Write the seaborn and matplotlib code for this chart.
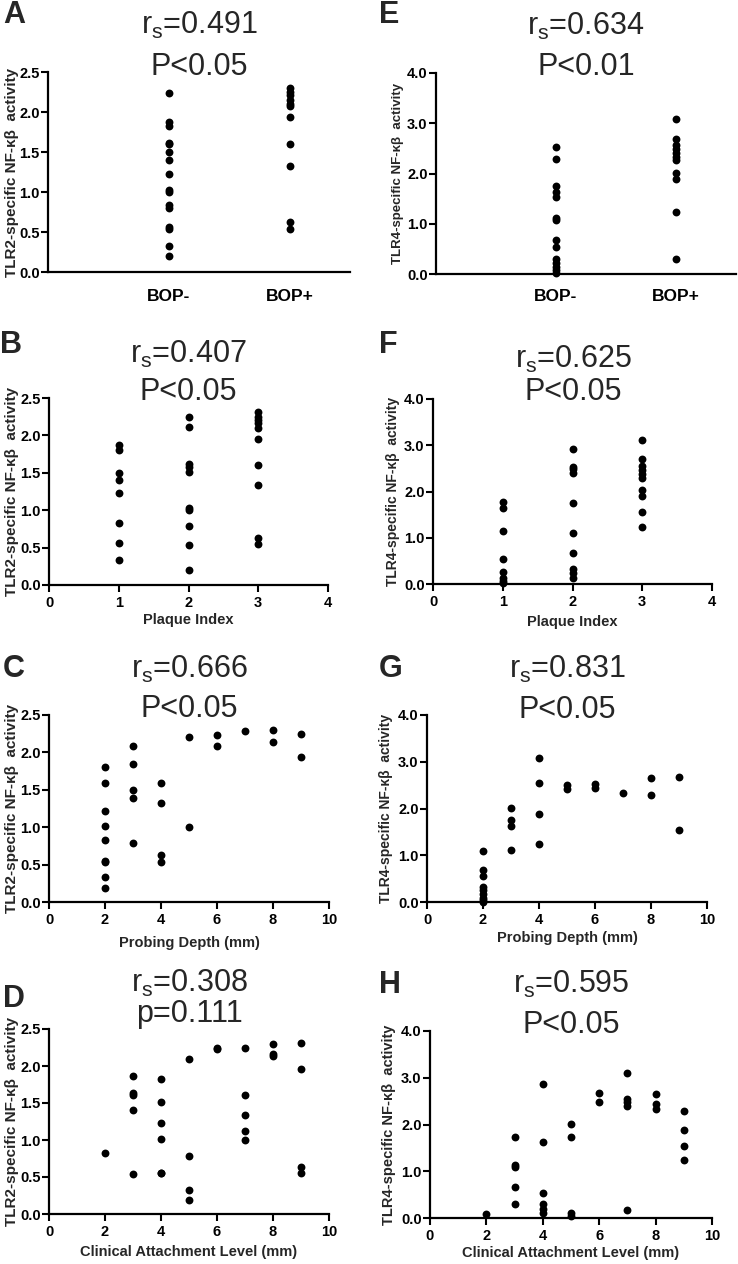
import matplotlib
matplotlib.use("Agg")
import matplotlib.pyplot as plt
import seaborn as sns
import pandas as pd

sns.set_style("ticks")
plt.rcParams["font.family"] = ["Liberation Sans", "DejaVu Sans"]
plt.rcParams["mathtext.default"] = "regular"

# ---------------- data ----------------
bop_labels = ["BOP-", "BOP+"]

# Panel A: TLR2 vs BOP
A_bop_neg = [2.24, 1.87, 1.82, 1.61, 1.60, 1.50, 1.40, 1.22, 1.02, 1.00, 0.84, 0.80, 0.56, 0.54, 0.33, 0.20]
A_bop_pos = [2.30, 2.25, 2.21, 2.15, 2.10, 2.08, 1.94, 1.60, 1.33, 0.63, 0.54]

# Panel B: TLR2 vs Plaque Index
B_plaque = [1, 1, 1, 1, 1, 1, 1, 1,
            2, 2, 2, 2, 2, 2, 2, 2, 2, 2,
            3, 3, 3, 3, 3, 3, 3, 3, 3, 3]
B_tlr2 = [1.87, 1.80, 1.50, 1.40, 1.23, 0.83, 0.56, 0.33,
          2.24, 2.11, 1.62, 1.58, 1.51, 1.03, 1.00, 0.79, 0.54, 0.20,
          2.31, 2.25, 2.20, 2.16, 2.10, 1.95, 1.60, 1.34, 0.63, 0.55]

# Panel C: TLR2 vs Probing Depth
C_depth = [2, 2, 2, 2, 2, 2, 2, 2, 2,
           3, 3, 3, 3, 3,
           4, 4, 4, 4,
           5, 5, 6, 6, 7, 8, 8, 9, 9]
C_tlr2 = [1.81, 1.59, 1.22, 1.01, 0.83, 0.55, 0.54, 0.33, 0.19,
          2.08, 1.85, 1.50, 1.39, 0.79,
          1.59, 1.33, 0.63, 0.54,
          2.21, 1.00, 2.23, 2.09, 2.28, 2.30, 2.14, 2.24, 1.94]

# Panel D: TLR2 vs Clinical Attachment Level
D_cal = [2,
         3, 3, 3, 3, 3,
         4, 4, 4, 4, 4, 4,
         5, 5, 5, 5,
         6, 6,
         7, 7, 7, 7, 7,
         8, 8, 8,
         9, 9, 9, 9]
D_tlr2 = [0.83,
          1.87, 1.63, 1.61, 1.41, 0.54,
          1.82, 1.51, 1.23, 1.02, 0.56, 0.55,
          2.10, 0.79, 0.33, 0.19,
          2.25, 2.23,
          2.25, 1.61, 1.34, 1.12, 1.00,
          2.30, 2.16, 2.13,
          2.31, 1.96, 0.63, 0.55]

# Panel E: TLR4 vs BOP
E_bop_neg = [2.52, 2.29, 1.75, 1.64, 1.54, 1.12, 1.08, 0.67, 0.53, 0.29, 0.21, 0.13, 0.07, 0.01]
E_bop_pos = [3.09, 2.68, 2.57, 2.48, 2.40, 2.33, 2.26, 2.01, 1.89, 1.24, 0.29]

# Panel F: TLR4 vs Plaque Index
F_plaque = [1, 1, 1, 1, 1, 1, 1, 1,
            2, 2, 2, 2, 2, 2, 2, 2, 2, 2,
            3, 3, 3, 3, 3, 3, 3, 3, 3, 3]
F_tlr4 = [1.77, 1.64, 1.14, 0.54, 0.27, 0.13, 0.07, 0.02,
          2.92, 2.54, 2.48, 2.41, 1.75, 1.10, 0.67, 0.32, 0.24, 0.13,
          3.11, 2.70, 2.56, 2.47, 2.37, 2.29, 2.04, 1.91, 1.55, 1.24]

# Panel G: TLR4 vs Probing Depth
G_depth = [2, 2, 2, 2, 2, 2, 2, 2, 2,
           3, 3, 3, 3,
           4, 4, 4, 4,
           5, 5, 6, 6, 7, 8, 8, 9, 9]
G_tlr4 = [1.09, 0.68, 0.55, 0.32, 0.25, 0.18, 0.09, 0.04, 0.00,
          2.01, 1.75, 1.62, 1.12,
          3.09, 2.54, 1.89, 1.24,
          2.50, 2.41, 2.53, 2.44, 2.34, 2.66, 2.29, 2.68, 1.54]

# Panel H: TLR4 vs Clinical Attachment Level
H_cal = [2,
         3, 3, 3, 3, 3,
         4, 4, 4, 4, 4, 4,
         5, 5, 5, 5,
         6, 6,
         7, 7, 7, 7, 7,
         8, 8, 8,
         9, 9, 9, 9]
H_tlr4 = [0.09,
          1.74, 1.13, 1.09, 0.66, 0.31,
          2.86, 1.63, 0.54, 0.29, 0.20, 0.11,
          2.02, 1.74, 0.11, 0.04,
          2.68, 2.48,
          3.11, 2.55, 2.49, 2.40, 0.18,
          2.66, 2.44, 2.34,
          2.29, 1.89, 1.54, 1.24]

titles = {
    "A": ("0.491", "P<0.05"), "B": ("0.407", "P<0.05"),
    "C": ("0.666", "P<0.05"), "D": ("0.308", "p=0.111"),
    "E": ("0.634", "P<0.01"), "F": ("0.625", "P<0.05"),
    "G": ("0.831", "P<0.05"), "H": ("0.595", "P<0.05"),
}
ylab2 = "TLR2-specific NF-κβ  activity"
ylab4 = "TLR4-specific NF-κβ  activity"

# ---------------- figure ----------------
W, H = 738, 1264
fig = plt.figure(figsize=(W / 100, H / 100), dpi=100)


def add_ax(l, r, t, b):
    return fig.add_axes([l / W, 1 - b / H, (r - l) / W, (b - t) / H])


def style(ax, l, r, t, b, ymax, ystep, ylabel, ylx, ylsize):
    for s in ["top", "right"]:
        ax.spines[s].set_visible(False)
    for s in ["left", "bottom"]:
        ax.spines[s].set_linewidth(1.6)
        ax.spines[s].set_color("black")
    ax.set_ylim(0, ymax)
    n = int(round(ymax / ystep))
    yt = [i * ystep for i in range(n + 1)]
    ax.set_yticks(yt, labels=[f"{v:.1f}" for v in yt], fontweight="bold", fontsize=10.5)
    ax.tick_params(axis="both", width=1.5, length=5, color="black", labelcolor="black")
    ax.tick_params(axis="y", pad=1)
    ax.tick_params(axis="x", pad=3)
    ax.set_ylabel(ylabel, fontweight="bold", fontsize=ylsize)
    ax.yaxis.set_label_coords((ylx - l) / (r - l), 0.5)
    ax.yaxis.label.set_va("center")
    ax.set_facecolor("white")


def scatter(ax, x, y):
    df = pd.DataFrame({"x": x, "y": y})
    sns.scatterplot(data=df, x="x", y="y", ax=ax, color="black", s=32,
                    linewidth=0, legend=False, clip_on=False, zorder=5)


def xlab(ax, text, l, r, t, b, ycenter):
    ax.set_xlabel(text, fontweight="bold", fontsize=10.5)
    ax.xaxis.set_label_coords(0.5, (b - ycenter) / (b - t))
    ax.xaxis.label.set_va("center")


def title(key, xc, y1, y2, letter_x, letter_base):
    rs, p = titles[key]
    fig.text(xc / W, 1 - y1 / H, r"r$_{s}$=" + rs, ha="center", va="baseline", fontsize=22)
    fig.text(xc / W, 1 - y2 / H, p, ha="center", va="baseline", fontsize=22)
    fig.text(letter_x / W, 1 - letter_base / H, key, ha="left", va="baseline",
             fontsize=22, fontweight="bold")


xt10 = list(range(0, 11, 2))
xt4 = [0, 1, 2, 3, 4]

# ---- Panel A ----
geo = (48, 350, 72, 272)
ax = add_ax(*geo)
scatter(ax, [1] * len(A_bop_neg) + [2] * len(A_bop_pos), A_bop_neg + A_bop_pos)
style(ax, *geo, 2.5, 0.5, ylab2, 12, 11)
ax.set_xlim(0, 2.5)
ax.set_xticks([1, 2], labels=bop_labels, fontweight="bold", fontsize=12.5)
ax.tick_params(axis="x", length=0, pad=12)
ax.set_xlabel("")
title("A", 199, 34, 75, 3, 23)

# ---- Panel E ----
geo = (436, 736, 73, 274)
ax = add_ax(*geo)
scatter(ax, [1] * len(E_bop_neg) + [2] * len(E_bop_pos), E_bop_neg + E_bop_pos)
style(ax, *geo, 4.0, 1.0, ylab4, 398, 9.5)
ax.set_xlim(0, 2.5)
ax.set_xticks([1, 2], labels=bop_labels, fontweight="bold", fontsize=12.5)
ax.tick_params(axis="x", length=0, pad=11)
ax.set_xlabel("")
title("E", 586, 35, 75, 379, 23)

# ---- Panel B ----
geo = (49, 328, 398, 585)
ax = add_ax(*geo)
scatter(ax, B_plaque, B_tlr2)
style(ax, *geo, 2.5, 0.5, ylab2, 12, 11)
ax.set_xlim(0, 4)
ax.set_xticks(xt4, labels=[str(v) for v in xt4], fontweight="bold", fontsize=10.5)
xlab(ax, "Plaque Index", *geo, 620)
title("B", 188, 363, 400, 0, 353)

# ---- Panel F ----
geo = (433, 712, 399, 584)
ax = add_ax(*geo)
scatter(ax, F_plaque, F_tlr4)
style(ax, *geo, 4.0, 1.0, ylab4, 393, 10)
ax.set_xlim(0, 4)
ax.set_xticks(xt4, labels=[str(v) for v in xt4], fontweight="bold", fontsize=10.5)
xlab(ax, "Plaque Index", *geo, 622)
title("F", 573, 368, 400, 379, 353)

# ---- Panel C ----
geo = (49, 329, 715, 902)
ax = add_ax(*geo)
scatter(ax, C_depth, C_tlr2)
style(ax, *geo, 2.5, 0.5, ylab2, 12, 11)
ax.set_xlim(0, 10)
ax.set_xticks(xt10, labels=[str(v) for v in xt10], fontweight="bold", fontsize=10.5)
xlab(ax, "Probing Depth (mm)", *geo, 943)
title("C", 189, 678, 717, 3, 677)

# ---- Panel G ----
geo = (427, 707, 715, 902)
ax = add_ax(*geo)
scatter(ax, G_depth, G_tlr4)
style(ax, *geo, 4.0, 1.0, ylab4, 386, 10)
ax.set_xlim(0, 10)
ax.set_xticks(xt10, labels=[str(v) for v in xt10], fontweight="bold", fontsize=10.5)
xlab(ax, "Probing Depth (mm)", *geo, 938)
title("G", 567, 678, 718, 379, 677)

# ---- Panel D ----
geo = (49, 329, 1029, 1214)
ax = add_ax(*geo)
scatter(ax, D_cal, D_tlr2)
style(ax, *geo, 2.5, 0.5, ylab2, 12, 11)
ax.set_xlim(0, 10)
ax.set_xticks(xt10, labels=[str(v) for v in xt10], fontweight="bold", fontsize=10.5)
xlab(ax, "Clinical Attachment Level (mm)", *geo, 1252)
title("D", 189, 992, 1022, 3, 1007)

# ---- Panel H ----
geo = (430, 712, 1031, 1218)
ax = add_ax(*geo)
scatter(ax, H_cal, H_tlr4)
style(ax, *geo, 4.0, 1.0, ylab4, 389, 10.5)
ax.set_xlim(0, 10)
ax.set_xticks(xt10, labels=[str(v) for v in xt10], fontweight="bold", fontsize=10.5)
xlab(ax, "Clinical Attachment Level (mm)", *geo, 1253)
title("H", 571, 993, 1033, 379, 993)

fig.savefig("out.png", dpi=100, facecolor="white")
